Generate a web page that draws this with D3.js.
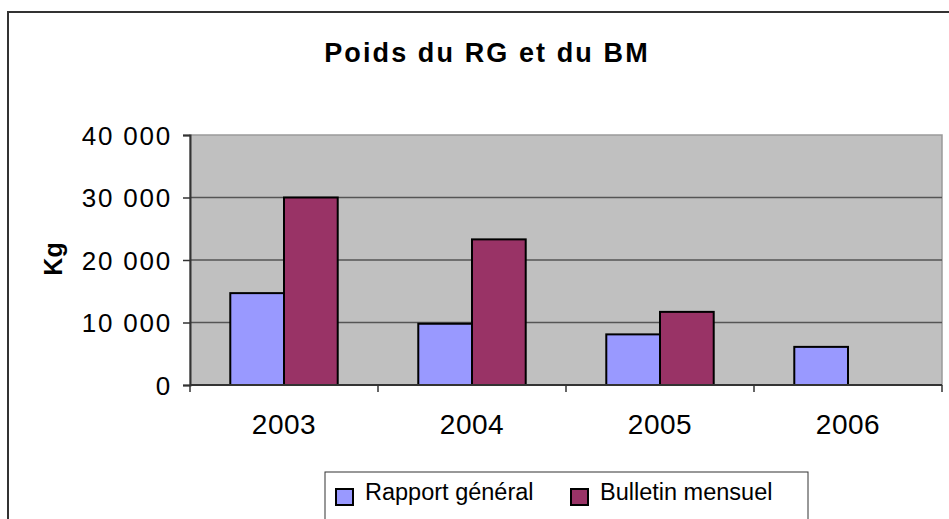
<!DOCTYPE html>
<html>
<head>
<meta charset="utf-8">
<script src="https://cdn.jsdelivr.net/npm/d3@7"></script>
<style>
  body { margin: 0; background: #fff; }
  svg text { font-family: "Liberation Sans", Arial, sans-serif; fill: #000; }
</style>
</head>
<body>
<div id="chart"></div>
<script>
// chart data
var years = ["2003", "2004", "2005", "2006"];
var rapportGeneral = [14700, 9800, 8100, 6100];
var bulletinMensuel = [30000, 23300, 11700, 0];
var seriesNames = ["Rapport général", "Bulletin mensuel"];
var seriesColors = ["#9999ff", "#993366"];
var yTicks = [0, 10000, 20000, 30000, 40000];

(function() {
  var W = 949, H = 519;
  // plot area
  var pLeft = 190, pTop = 135, pRight = 942, pBottom = 385;

  var svg = d3.select("#chart").append("svg")
    .attr("width", W).attr("height", H);

  // outer chart frame (runs off the canvas at right and bottom)
  svg.append("rect")
    .attr("x", 8).attr("y", 12)
    .attr("width", W + 20).attr("height", H + 20)
    .attr("fill", "#fff").attr("stroke", "#333").attr("stroke-width", 2);

  // title
  svg.append("text")
    .attr("x", 487).attr("y", 62)
    .attr("text-anchor", "middle")
    .style("font-size", "27px").style("font-weight", "bold")
    .style("letter-spacing", "2.1px")
    .text("Poids du RG et du BM");

  // scales
  var x0 = d3.scaleBand().domain(years).range([pLeft, pRight]).padding(0);
  var bw = x0.bandwidth() / 3.5;   // gap width 150%
  var x1 = d3.scaleBand().domain([0, 1]).range([0.75 * bw, 2.75 * bw]).padding(0);
  var y = d3.scaleLinear().domain([0, 40000]).range([pBottom, pTop]);

  // plot background
  svg.append("rect")
    .attr("x", pLeft).attr("y", pTop)
    .attr("width", pRight - pLeft).attr("height", pBottom - pTop)
    .attr("fill", "#c0c0c0").attr("stroke", "#9a9a9a").attr("stroke-width", 1.5);

  // gridlines
  svg.append("g").selectAll("line").data(yTicks.slice(1, -1)).enter().append("line")
    .attr("x1", pLeft).attr("x2", pRight)
    .attr("y1", function(d) { return y(d); }).attr("y2", function(d) { return y(d); })
    .attr("stroke", "#555").attr("stroke-width", 1.5);

  // bars
  var groups = svg.append("g").selectAll("g").data(years).enter().append("g")
    .attr("transform", function(d) { return "translate(" + x0(d) + ",0)"; });
  groups.selectAll("rect")
    .data(function(d, i) {
      return [rapportGeneral[i], bulletinMensuel[i]].map(function(v, s) { return {s: s, v: v}; })
        .filter(function(e) { return e.v > 0; });
    })
    .enter().append("rect")
    .attr("x", function(d) { return x1(d.s); })
    .attr("width", x1.bandwidth())
    .attr("y", function(d) { return y(d.v); })
    .attr("height", function(d) { return y(0) - y(d.v); })
    .attr("fill", function(d) { return seriesColors[d.s]; })
    .attr("stroke", "#000").attr("stroke-width", 2);

  // y axis
  var yAxis = d3.axisLeft(y).tickValues(yTicks).tickSize(7).tickPadding(11)
    .tickFormat(function(d) { return d3.format(",")(d).replace(/,/g, " "); });
  var gy = svg.append("g").attr("transform", "translate(" + pLeft + ",0)").call(yAxis);
  gy.attr("font-family", null).attr("font-size", null);
  gy.select(".domain").attr("stroke", "#333").attr("stroke-width", 2);
  gy.selectAll(".tick line").attr("stroke", "#333").attr("stroke-width", 1.5);
  gy.selectAll(".tick text")
    .style("font-size", "26px").style("letter-spacing", "1.8px")
    .attr("fill", "#000")
    .attr("dy", "0.36em");

  // x axis with ticks at category boundaries
  var gx = svg.append("g");
  gx.append("line")
    .attr("x1", pLeft).attr("x2", pRight).attr("y1", pBottom).attr("y2", pBottom)
    .attr("stroke", "#333").attr("stroke-width", 2);
  var bounds = years.map(function(d) { return x0(d); }).concat([pRight]);
  gx.selectAll(".xt").data(bounds).enter().append("line")
    .attr("x1", function(d) { return d; }).attr("x2", function(d) { return d; })
    .attr("y1", pBottom).attr("y2", pBottom + 7)
    .attr("stroke", "#333").attr("stroke-width", 1.5);
  gx.selectAll("text").data(years).enter().append("text")
    .attr("x", function(d) { return x0(d) + x0.bandwidth() / 2; })
    .attr("y", 434)
    .attr("text-anchor", "middle")
    .style("font-size", "28px").style("letter-spacing", "0.5px")
    .text(function(d) { return d; });

  // y axis title
  svg.append("text")
    .attr("transform", "translate(62,259) rotate(-90)")
    .attr("text-anchor", "middle")
    .style("font-size", "25px").style("font-weight", "bold")
    .text("Kg");

  // legend
  var legend = svg.append("g");
  legend.append("rect")
    .attr("x", 325).attr("y", 472).attr("width", 483).attr("height", 70)
    .attr("fill", "#fff").attr("stroke", "#333").attr("stroke-width", 1);
  var legendX = [335, 570];
  var items = legend.selectAll(".item").data(seriesNames).enter().append("g")
    .attr("transform", function(d, i) { return "translate(" + legendX[i] + ",0)"; });
  items.append("rect")
    .attr("x", 1).attr("y", 489).attr("width", 17).attr("height", 16)
    .attr("fill", function(d, i) { return seriesColors[i]; })
    .attr("stroke", "#000").attr("stroke-width", 2);
  items.append("text")
    .attr("x", 30).attr("y", 500)
    .style("font-size", "23.5px")
    .text(function(d) { return d; });
})();
</script>
</body>
</html>
